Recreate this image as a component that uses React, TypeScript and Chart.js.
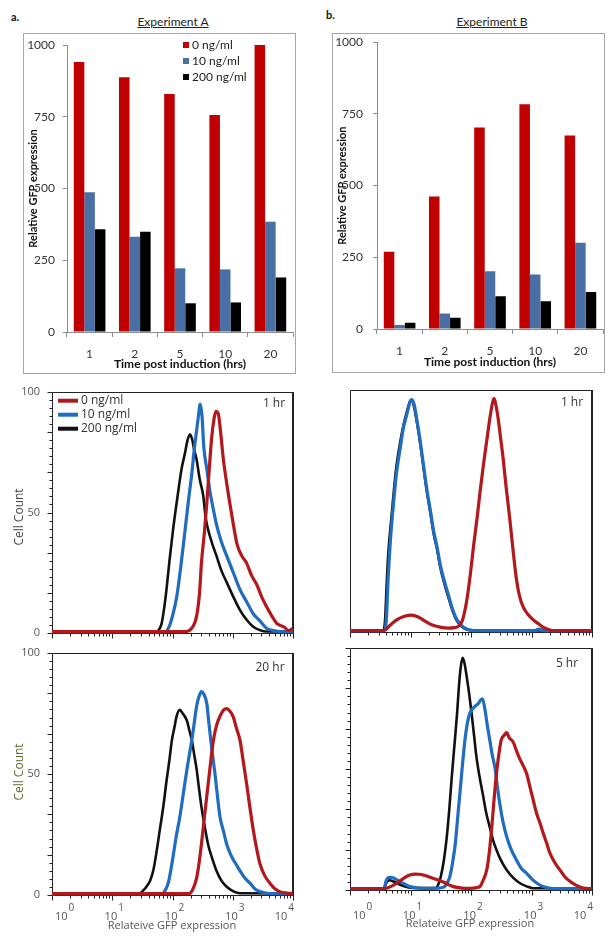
import React, { useEffect, useRef } from 'react';
import { Chart, registerables } from 'chart.js';
Chart.register(...registerables);

// ---------- data ----------
const TIMES = ['1', '2', '5', '10', '20'];
const DOSES = ['0 ng/ml', '10 ng/ml', '200 ng/ml'];
const BAR_Y_TICKS = [0, 250, 500, 750, 1000];

const EXP_A_0 = [941, 888, 829, 756, 1000];
const EXP_A_10 = [487, 332, 222, 218, 384];
const EXP_A_200 = [358, 349, 100, 103, 190];

const EXP_B_0 = [269, 462, 703, 784, 675];
const EXP_B_10 = [14, 54, 201, 190, 301];
const EXP_B_200 = [22, 39, 114, 97, 129];

// histograms: [log10 relative GFP expression, cell count]
const H1A_RED: [number, number][] = [[0, 0.6], [2.22, 0.6], [2.32, 2], [2.4, 7], [2.45, 17], [2.48, 29], [2.53, 42], [2.57, 54], [2.61, 68], [2.65, 81], [2.69, 89], [2.72, 92], [2.76, 91], [2.8, 83], [2.84, 73], [2.9, 62], [2.95, 54], [3.01, 45], [3.07, 37], [3.15, 32], [3.23, 29], [3.31, 24], [3.4, 20], [3.48, 15], [3.56, 11], [3.65, 7], [3.73, 4], [3.85, 2.5], [3.93, 1], [4.0, 2]];
const H1A_BLUE: [number, number][] = [[0, 0.6], [1.88, 0.6], [1.95, 3], [2.01, 8], [2.07, 15], [2.14, 28], [2.21, 43], [2.27, 56], [2.32, 66], [2.36, 76], [2.4, 84], [2.43, 90], [2.46, 95], [2.49, 90], [2.52, 77], [2.57, 68], [2.62, 59], [2.68, 51], [2.73, 45], [2.81, 38], [2.9, 32], [3.01, 25], [3.12, 18], [3.23, 13], [3.34, 8], [3.45, 5], [3.56, 2], [3.68, 1], [3.79, 0.6], [4.0, 0.6]];
const H1A_BLACK: [number, number][] = [[0, 0.6], [1.74, 0.6], [1.79, 2], [1.82, 4], [1.86, 10], [1.9, 18], [1.95, 30], [2.01, 43], [2.08, 56], [2.15, 68], [2.21, 75], [2.25, 80], [2.29, 82.5], [2.33, 80], [2.36, 76], [2.4, 72], [2.45, 64], [2.51, 57], [2.55, 48], [2.59, 43], [2.66, 37], [2.73, 32], [2.81, 26], [2.9, 21], [3.01, 15], [3.12, 9.5], [3.23, 5.5], [3.34, 2.6], [3.45, 1.2], [3.56, 0.6], [4.0, 0.6]];

const H1B_RED: [number, number][] = [[0, 0.6], [0.56, 0.6], [0.65, 2.5], [0.77, 5], [0.9, 6.5], [1.02, 7], [1.12, 6.3], [1.22, 4.8], [1.35, 3], [1.49, 2], [1.62, 1.6], [1.73, 1.8], [1.8, 2.5], [1.86, 5], [1.93, 13], [1.99, 24], [2.04, 35], [2.1, 47], [2.15, 58], [2.21, 70], [2.26, 79], [2.31, 88], [2.35, 94], [2.38, 96.5], [2.41, 94], [2.45, 88], [2.49, 80], [2.53, 72], [2.58, 60], [2.64, 47], [2.69, 35], [2.75, 22], [2.8, 15], [2.86, 10.5], [2.95, 7], [3.03, 5], [3.11, 3.5], [3.19, 2], [3.28, 1], [3.36, 0.6], [4.0, 0.6]];
const H1B_BLUE: [number, number][] = [[0, 0.6], [0.56, 0.6], [0.6, 5], [0.63, 22], [0.66, 35], [0.69, 45], [0.73, 56], [0.77, 66], [0.83, 76], [0.88, 84], [0.94, 90], [0.99, 95], [1.02, 96], [1.06, 94], [1.11, 87], [1.16, 79], [1.22, 68], [1.27, 59], [1.33, 50], [1.38, 42], [1.44, 35], [1.49, 28], [1.56, 21], [1.63, 15], [1.7, 9], [1.77, 5], [1.85, 2.5], [1.93, 1.2], [2.05, 0.6], [3.05, 0.6], [3.12, 1.2], [3.2, 0.6], [4.0, 0.6]];
const H1B_BLACK: [number, number][] = [[0, 0.6], [0.55, 0.6], [0.58, 5], [0.61, 22], [0.64, 35], [0.68, 46], [0.72, 57], [0.76, 67], [0.82, 77], [0.88, 85], [0.94, 91], [0.99, 95], [1.02, 96], [1.06, 93], [1.11, 86], [1.16, 78], [1.22, 67], [1.27, 58], [1.33, 49], [1.38, 41], [1.44, 34], [1.49, 27], [1.56, 20], [1.63, 14], [1.7, 8.5], [1.77, 4.5], [1.85, 2.2], [1.93, 1], [2.05, 0.6], [4.0, 0.6]];

const H20A_RED: [number, number][] = [[0, 0.6], [2.27, 0.6], [2.33, 2], [2.4, 7], [2.44, 13], [2.48, 21], [2.52, 30], [2.57, 41], [2.62, 52], [2.68, 64], [2.73, 70], [2.79, 74], [2.85, 76.5], [2.9, 77], [2.95, 76], [3.01, 73.5], [3.06, 69], [3.12, 64], [3.17, 56], [3.23, 46], [3.28, 37], [3.34, 27], [3.39, 20], [3.45, 13], [3.53, 8], [3.62, 4.8], [3.7, 2.6], [3.78, 1.4], [3.9, 0.8], [4.0, 0.6]];
const H20A_BLUE: [number, number][] = [[0, 0.6], [1.83, 0.6], [1.88, 2], [1.93, 5], [1.97, 10], [2.01, 16], [2.06, 24], [2.12, 32], [2.18, 42], [2.24, 52], [2.28, 58], [2.32, 64], [2.36, 71], [2.4, 78], [2.44, 82], [2.48, 84], [2.52, 83], [2.57, 79], [2.6, 72], [2.64, 63], [2.68, 55], [2.71, 49], [2.75, 40], [2.79, 32], [2.85, 26], [2.9, 21], [2.96, 17], [3.01, 14.5], [3.06, 12.5], [3.12, 10], [3.2, 7], [3.29, 4.8], [3.37, 2.5], [3.45, 1.4], [3.6, 0.6], [4.0, 0.6]];
const H20A_BLACK: [number, number][] = [[0, 0.6], [1.44, 0.6], [1.52, 2], [1.57, 3.5], [1.63, 6], [1.68, 10], [1.73, 17], [1.79, 27], [1.85, 37], [1.9, 47], [1.95, 56], [1.99, 64], [2.03, 69], [2.07, 74], [2.12, 76.5], [2.17, 75], [2.24, 72], [2.28, 68], [2.32, 64], [2.36, 58], [2.4, 52], [2.44, 44], [2.48, 36.5], [2.53, 29], [2.59, 21], [2.66, 15], [2.73, 10], [2.81, 6], [2.9, 3.4], [3.01, 1.5], [3.12, 0.7], [4.0, 0.6]];

const H5B_RED: [number, number][] = [[0, 0.6], [0.58, 0.6], [0.68, 1.5], [0.77, 2.8], [0.85, 4.2], [0.93, 5.5], [1.0, 6.3], [1.07, 6.6], [1.14, 6.5], [1.21, 6.2], [1.3, 5.5], [1.38, 4.8], [1.47, 4], [1.55, 3.2], [1.63, 2.2], [1.71, 1.4], [1.85, 0.8], [1.98, 0.7], [2.1, 1], [2.15, 1.5], [2.2, 4], [2.26, 8.3], [2.3, 15], [2.34, 25], [2.38, 37], [2.42, 48], [2.46, 56], [2.5, 62], [2.55, 64], [2.59, 65], [2.63, 63], [2.7, 61], [2.76, 57], [2.81, 54], [2.87, 51], [2.92, 48], [2.97, 43], [3.03, 37], [3.08, 32], [3.14, 27.7], [3.2, 23], [3.25, 19.4], [3.3, 15.5], [3.36, 12.4], [3.42, 10], [3.47, 8.3], [3.55, 5.5], [3.64, 3.5], [3.75, 1.8], [3.86, 0.8], [4.0, 0.6]];
const H5B_BLUE: [number, number][] = [[0, 0.6], [0.56, 0.6], [0.6, 4], [0.65, 5.2], [0.72, 5], [0.8, 3.8], [0.9, 2.5], [0.99, 1.4], [1.13, 0.8], [1.27, 0.7], [1.45, 0.8], [1.55, 1.2], [1.61, 3], [1.65, 5.5], [1.7, 12], [1.74, 19], [1.78, 30], [1.82, 41], [1.86, 52], [1.9, 62], [1.94, 69], [1.98, 73], [2.03, 75], [2.07, 76], [2.12, 77], [2.16, 78.5], [2.19, 79], [2.23, 74.7], [2.27, 68], [2.31, 62], [2.35, 56], [2.4, 50], [2.44, 42], [2.48, 35], [2.53, 28], [2.59, 22], [2.66, 17], [2.75, 12.4], [2.83, 9], [2.92, 6.9], [3.03, 4], [3.14, 2], [3.25, 1], [3.36, 0.6], [4.0, 0.6]];
const H5B_BLACK: [number, number][] = [[0, 0.6], [0.56, 0.6], [0.6, 3], [0.65, 4], [0.72, 3.5], [0.85, 2], [1.0, 1], [1.3, 0.8], [1.42, 0.8], [1.47, 3], [1.5, 5.5], [1.55, 12], [1.6, 22], [1.64, 33], [1.68, 46], [1.72, 58], [1.77, 73], [1.8, 84], [1.83, 92], [1.86, 96], [1.89, 94], [1.93, 88], [1.97, 81], [2.01, 73], [2.05, 64], [2.09, 55], [2.14, 47], [2.2, 39], [2.25, 32], [2.31, 26], [2.36, 21], [2.42, 16.6], [2.5, 12], [2.59, 8.3], [2.7, 5], [2.81, 2.8], [2.92, 1.5], [3.03, 0.7], [4.0, 0.6]];

const X_DECADES = [0, 1, 2, 3, 4];
const HIST_Y_LABELS = [0, 50, 100];

// ---------- styles ----------
const BAR_COLORS = ['#C00000', '#4A6FA5', '#000000'];
const HIST_COLORS = ['#B3181C', '#1F6CC0', '#111111'];
const BAR_FONT = 'Lato';
const HIST_FONT = 'Open Sans';

function barLegendPlugin(x: number, y: number, dy: number) {
  return {
    id: 'barLegend',
    afterDraw(chart: any) {
      const ctx = chart.ctx;
      ctx.save();
      ctx.font = `12px ${BAR_FONT}`;
      ctx.textBaseline = 'middle';
      chart.data.datasets.forEach((ds: any, i: number) => {
        const yy = y + i * dy;
        ctx.fillStyle = ds.backgroundColor;
        ctx.fillRect(x, yy - 3, 6, 6);
        ctx.fillStyle = '#222';
        ctx.fillText(ds.label, x + 9, yy);
      });
      ctx.restore();
    },
  };
}

function barConfig(vals: number[][], o: any) {
  return {
    type: 'bar',
    data: {
      labels: TIMES,
      datasets: vals.map((v, i) => ({
        label: DOSES[i],
        data: v,
        backgroundColor: BAR_COLORS[i],
        borderWidth: 0,
        categoryPercentage: 0.7,
        barPercentage: 1.0,
      })),
    },
    options: {
      animation: false,
      responsive: false,
      maintainAspectRatio: false,
      layout: { padding: { top: o.padTop, right: o.padRight, left: 0, bottom: 0 } },
      plugins: { legend: { display: false }, tooltip: { enabled: false } },
      scales: {
        x: {
          grid: { offset: true, drawOnChartArea: false, tickLength: 5, color: '#8c8c8c' },
          border: { color: '#8c8c8c' },
          ticks: { font: { family: BAR_FONT, size: 12 }, color: '#333', padding: 10, maxRotation: 0, autoSkip: false },
          title: {
            display: true,
            text: 'Time post induction (hrs)',
            font: { family: BAR_FONT, size: 12, weight: 'bold' },
            color: '#111',
            padding: { top: 0, bottom: o.xTitlePad },
          },
          afterFit: (s: any) => { s.height = o.xHeight; },
        },
        y: {
          min: 0,
          max: 1000,
          afterBuildTicks: (s: any) => { s.ticks = BAR_Y_TICKS.map((v) => ({ value: v })); },
          grid: { drawOnChartArea: false, tickLength: 4, color: '#8c8c8c' },
          border: { color: '#8c8c8c' },
          ticks: {
            font: { family: BAR_FONT, size: 12 },
            color: '#333',
            padding: o.yTickPad,
            callback: (v: any) => String(v),
          },
          title: {
            display: true,
            text: 'Relative GFP expression',
            font: { family: BAR_FONT, size: 11, weight: 'bold' },
            color: '#111',
            padding: { top: 3.4, bottom: 0 },
          },
          afterFit: (s: any) => { s.width = o.yWidth; },
        },
      },
    },
    plugins: o.legend ? [barLegendPlugin(o.legend[0], o.legend[1], 16)] : [],
  };
}

type HistCfg = {
  yLabels: boolean;
  yTicks: boolean;
  xLabels: boolean;
  xLabelY?: number;
  corner: [string, number, number];
  yTitle?: [string, number, number, string];
  xTitle?: [string, number, number];
  legend?: [number, number, number];
};

function histPlugin(cfg: HistCfg) {
  return {
    id: 'histDecor',
    beforeDatasetsDraw(chart: any) {
      const { ctx, chartArea: a, scales } = chart;
      const xs = scales.x;
      const ys = scales.y;
      ctx.save();
      ctx.strokeStyle = '#222';
      ctx.lineWidth = 1;
      const seg = (x1: number, y1: number, x2: number, y2: number) => {
        ctx.beginPath();
        ctx.moveTo(x1, y1);
        ctx.lineTo(x2, y2);
        ctx.stroke();
      };
      const L = Math.round(a.left) + 0.5;
      const B = Math.round(a.bottom) + 0.5;
      const T = Math.round(a.top) + 0.5;
      const R = Math.round(a.right);
      seg(L, B, L, T);
      seg(L, T, R, T);
      seg(L, B, R, B);
      ctx.lineWidth = 2;
      seg(R, T - 0.5, R, B + 0.5);
      ctx.lineWidth = 1;
      // x ticks (log)
      X_DECADES.forEach((k) => {
        const px = Math.round(xs.getPixelForValue(Math.pow(10, k))) + 0.5;
        seg(px, B, px, B + 5);
        if (k < 4) {
          for (let m = 2; m <= 9; m++) {
            const p = Math.round(xs.getPixelForValue(m * Math.pow(10, k))) + 0.5;
            seg(p, B, p, B + 3);
          }
        }
      });
      // y ticks
      if (cfg.yTicks) {
        for (let i = 0; i <= 30; i++) {
          const py = Math.round(ys.getPixelForValue((i * 100) / 30)) + 0.5;
          seg(L, py, L - (i % 5 === 0 ? 5 : 3), py);
        }
      }
      ctx.fillStyle = '#555';
      if (cfg.yLabels) {
        ctx.font = `11px ${HIST_FONT}`;
        ctx.textAlign = 'right';
        ctx.textBaseline = 'middle';
        HIST_Y_LABELS.forEach((v) => {
          ctx.fillText(String(v), a.left - 12, ys.getPixelForValue(v));
        });
      }
      if (cfg.xLabels) {
        const ly = cfg.xLabelY as number;
        X_DECADES.forEach((k) => {
          const px = xs.getPixelForValue(Math.pow(10, k));
          ctx.font = `11px ${HIST_FONT}`;
          const w1 = ctx.measureText('10').width;
          ctx.font = `10px ${HIST_FONT}`;
          const w2 = ctx.measureText(String(k)).width;
          const w = w1 + w2 + 1;
          let left = px + 2 - w / 2;
          if (left < a.left + 3) left = a.left + 3;
          if (left + w > a.right + 1) left = a.right + 1 - w;
          ctx.textAlign = 'left';
          ctx.textBaseline = 'alphabetic';
          ctx.font = `11px ${HIST_FONT}`;
          ctx.fillText('10', left, ly + 4);
          ctx.font = `10px ${HIST_FONT}`;
          ctx.fillText(String(k), left + w1 + 1, ly - 5);
        });
      }
      ctx.restore();
    },
    afterDatasetsDraw(chart: any) {
      const { ctx } = chart;
      ctx.save();
      ctx.textBaseline = 'middle';
      ctx.font = `12px ${HIST_FONT}`;
      ctx.fillStyle = '#333';
      ctx.textAlign = 'center';
      ctx.fillText(cfg.corner[0], cfg.corner[1], cfg.corner[2]);
      if (cfg.xTitle) {
        ctx.font = `11px ${HIST_FONT}`;
        ctx.fillStyle = '#555';
        ctx.fillText(cfg.xTitle[0], cfg.xTitle[1], cfg.xTitle[2]);
      }
      if (cfg.yTitle) {
        ctx.save();
        ctx.translate(cfg.yTitle[1], cfg.yTitle[2]);
        ctx.rotate(-Math.PI / 2);
        ctx.font = `12px ${HIST_FONT}`;
        ctx.fillStyle = cfg.yTitle[3];
        ctx.fillText(cfg.yTitle[0], 0, 0);
        ctx.restore();
      }
      if (cfg.legend) {
        const [lx, ly, dy] = cfg.legend;
        ctx.textAlign = 'left';
        ctx.font = `12px ${HIST_FONT}`;
        chart.data.datasets.forEach((ds: any, i: number) => {
          const yy = ly + i * dy;
          ctx.strokeStyle = ds.borderColor;
          ctx.lineWidth = 4;
          ctx.beginPath();
          ctx.moveTo(lx, yy);
          ctx.lineTo(lx + 20, yy);
          ctx.stroke();
          ctx.fillStyle = '#333';
          ctx.fillText(ds.label, lx + 23, yy);
        });
      }
      ctx.restore();
    },
  };
}

function histConfig(curves: [number, number][][], padding: any, cfg: HistCfg) {
  return {
    type: 'line',
    data: {
      datasets: curves.map((c, i) => ({
        label: DOSES[i],
        data: c.map(([lx, y]) => ({ x: Math.pow(10, lx), y })),
        borderColor: HIST_COLORS[i],
        backgroundColor: HIST_COLORS[i],
        borderWidth: i === 2 ? 2.6 : 3.2,
        pointRadius: 0,
        cubicInterpolationMode: 'monotone',
        fill: false,
        clip: 6,
      })),
    },
    options: {
      animation: false,
      responsive: false,
      maintainAspectRatio: false,
      layout: { padding },
      plugins: { legend: { display: false }, tooltip: { enabled: false } },
      scales: {
        x: { type: 'logarithmic', min: 1, max: 10000, display: false },
        y: { type: 'linear', min: 0, max: 100, display: false },
      },
    },
    plugins: [histPlugin(cfg)],
  };
}

function ChartCanvas({ left, top, width, height, make }: any) {
  const ref = useRef<HTMLCanvasElement>(null);
  useEffect(() => {
    const chart = new Chart(ref.current as HTMLCanvasElement, make());
    return () => chart.destroy();
  }, []);
  return (
    <canvas
      ref={ref}
      width={width}
      height={height}
      style={{ position: 'absolute', left, top, width, height }}
    />
  );
}

const txt = (extra: any): any => ({ position: 'absolute', fontFamily: BAR_FONT, color: '#111', whiteSpace: 'nowrap', lineHeight: 1, ...extra });

export default function App() {
  return (
    <div style={{ position: 'absolute', left: 0, top: 0, width: 616, height: 940, background: '#fff', overflow: 'hidden' }}>
      <div style={txt({ left: 11, top: 11, fontSize: 11, fontWeight: 'bold' })}>a.</div>
      <div style={txt({ left: 326, top: 9, fontSize: 11, fontWeight: 'bold' })}>b.</div>
      <div style={txt({ left: 173, top: 16, fontSize: 12, textDecoration: 'underline', transform: 'translateX(-50%)', color: '#222' })}>Experiment A</div>
      <div style={txt({ left: 492, top: 16, fontSize: 12, textDecoration: 'underline', transform: 'translateX(-50%)', color: '#222' })}>Experiment B</div>

      <div style={{ position: 'absolute', left: 23, top: 33, width: 273, height: 341, border: '1px solid #a6a6a6', boxSizing: 'border-box' }} />
      <div style={{ position: 'absolute', left: 332, top: 33, width: 273, height: 340, border: '1px solid #a6a6a6', boxSizing: 'border-box' }} />

      <ChartCanvas
        left={23} top={25} width={273} height={347}
        make={() => barConfig([EXP_A_0, EXP_A_10, EXP_A_200], {
          padTop: 20, padRight: 3, xHeight: 40, yWidth: 44, yTickPad: 8, xTitlePad: 0.8, legend: [160, 20],
        })}
      />
      <ChartCanvas
        left={332} top={25} width={273} height={347}
        make={() => barConfig([EXP_B_0, EXP_B_10, EXP_B_200], {
          padTop: 14, padRight: 2, xHeight: 43, yWidth: 45, yTickPad: 10, xTitlePad: 2.8,
        })}
      />

      <ChartCanvas
        left={0} top={380} width={300} height={260}
        make={() => histConfig([H1A_RED, H1A_BLUE, H1A_BLACK], { left: 52, right: 7, top: 12, bottom: 7 }, {
          yLabels: true, yTicks: true, xLabels: false,
          corner: ['1 hr', 274, 24],
          yTitle: ['Cell Count', 20, 137, '#444'],
          legend: [58, 20.7, 14],
        })}
      />
      <ChartCanvas
        left={300} top={380} width={300} height={260}
        make={() => histConfig([H1B_RED, H1B_BLUE, H1B_BLACK], { left: 50, right: 8, top: 10, bottom: 8 }, {
          yLabels: false, yTicks: false, xLabels: false,
          corner: ['1 hr', 272, 23],
        })}
      />
      <ChartCanvas
        left={0} top={640} width={300} height={300}
        make={() => histConfig([H20A_RED, H20A_BLUE, H20A_BLACK], { left: 52, right: 7, top: 13, bottom: 45 }, {
          yLabels: true, yTicks: true, xLabels: true, xLabelY: 276,
          corner: ['20 hr', 270, 28],
          yTitle: ['Cell Count', 20, 132, '#5b6b2e'],
          xTitle: ['Relateive GFP expression', 172, 286],
        })}
      />
      <ChartCanvas
        left={300} top={640} width={300} height={300}
        make={() => histConfig([H5B_RED, H5B_BLUE, H5B_BLACK], { left: 50, right: 8, top: 8, bottom: 50 }, {
          yLabels: false, yTicks: true, xLabels: true, xLabelY: 275,
          corner: ['5 hr', 267, 24],
          xTitle: ['Relateive GFP expression', 170, 284],
        })}
      />
    </div>
  );
}
